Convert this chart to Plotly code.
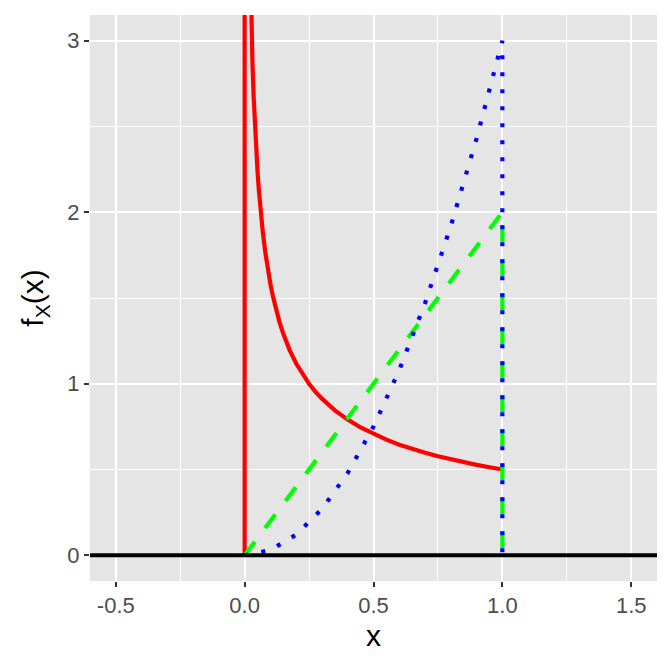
import plotly.graph_objects as go

# values
red_x = [0, 0, 0.016, 0.02, 0.025, 0.03, 0.035, 0.04, 0.045, 0.05, 0.055, 0.06, 0.07, 0.08,
         0.09, 0.1, 0.11, 0.12, 0.135, 0.15, 0.175, 0.2, 0.225, 0.25, 0.275, 0.3, 0.35, 0.4,
         0.45, 0.5, 0.55, 0.6, 0.65, 0.7, 0.75, 0.8, 0.85, 0.9, 0.95, 1.0]
red_y = [0, 4, 3.953, 3.536, 3.162, 2.887, 2.673, 2.5, 2.357, 2.236, 2.132, 2.041, 1.890, 1.768,
         1.667, 1.581, 1.508, 1.443, 1.361, 1.291, 1.195, 1.118, 1.054, 1.0, 0.953, 0.913,
         0.845, 0.791, 0.745, 0.707, 0.674, 0.645, 0.620, 0.598, 0.577, 0.559, 0.542, 0.527,
         0.513, 0.5]

green_x = [0, 1.0, 1.0]
green_y = [0, 2.0, 0]

blue_x = [0, 0.1, 0.2, 0.3, 0.4, 0.5, 0.6, 0.7, 0.8, 0.9, 1.0, 1.0]
blue_y = [0, 0.03, 0.12, 0.27, 0.48, 0.75, 1.08, 1.47, 1.92, 2.43, 3.0, 0]

base_x = [-0.6, 1.6]
base_y = [0, 0]

x_ticks = [-0.5, 0.0, 0.5, 1.0, 1.5]
x_labels = ["-0.5", "0.0", "0.5", "1.0", "1.5"]
y_ticks = [0, 1, 2, 3]
y_labels = ["0", "1", "2", "3"]

FONT = "Liberation Sans, Arial, sans-serif"

fig = go.Figure()
fig.add_trace(go.Scatter(x=red_x, y=red_y, mode="lines",
                         line=dict(color="#FF0000", width=4.2)))
fig.add_trace(go.Scatter(x=green_x, y=green_y, mode="lines",
                         line=dict(color="#00FF00", width=4.2, dash="17px,17px")))
fig.add_trace(go.Scatter(x=blue_x, y=blue_y, mode="lines",
                         line=dict(color="#0000FF", width=4.2, dash="4px,13px")))
fig.add_trace(go.Scatter(x=base_x, y=base_y, mode="lines",
                         line=dict(color="#000000", width=4)))

axis_common = dict(
    showgrid=True, gridcolor="white", gridwidth=1.6,
    zeroline=False, showline=False,
    ticks="outside", ticklen=5, tickwidth=1.5, tickcolor="#333333",
    tickfont=dict(family=FONT, size=22, color="#4D4D4D"),
)

fig.update_layout(
    width=672, height=672,
    showlegend=False,
    paper_bgcolor="white",
    plot_bgcolor="#E5E5E5",
    margin=dict(l=82, r=23, t=7, b=99),
    xaxis=dict(range=[-0.6, 1.6], tickvals=x_ticks, ticktext=x_labels,
               title=dict(text="x", font=dict(family=FONT, size=30, color="black"),
                          standoff=7),
               minor=dict(tickvals=[-0.25, 0.25, 0.75, 1.25], ticks="",
                          showgrid=True, gridcolor="white", gridwidth=0.7),
               **axis_common),
    yaxis=dict(range=[-0.15, 3.15], tickvals=y_ticks, ticktext=y_labels,
               title=dict(text="f<sub>X</sub>(x)",
                          font=dict(family=FONT, size=30, color="black"),
                          standoff=14),
               minor=dict(tickvals=[0.5, 1.5, 2.5], ticks="",
                          showgrid=True, gridcolor="white", gridwidth=0.7),
               **axis_common),
)

fig.write_html("out.html")
